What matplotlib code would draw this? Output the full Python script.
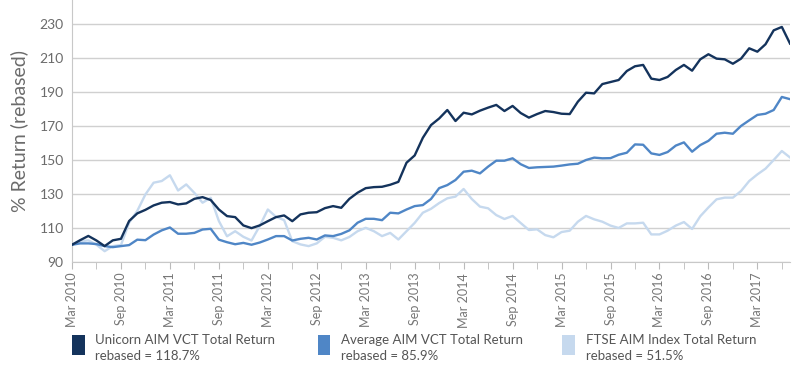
import matplotlib
matplotlib.use("Agg")
import matplotlib.pyplot as plt
from matplotlib.patches import Rectangle

# monthly values, Mar 2010 .. Jul 2017 (rebased to 100)
unicorn = [100, 102.7, 105.2, 102.5, 99.2, 102.6, 103.5, 114, 118.5, 120.6, 123.2, 124.8,
           125.2, 123.8, 124.4, 127.1, 128.1, 126.4, 120.8, 116.9, 116.3, 111.4, 109.8, 111.4,
           113.9, 116.3, 117.3, 113.9, 117.9, 118.9, 119.2, 121.6, 122.8, 121.8, 127.1, 130.7,
           133.4, 134, 134.2, 135.4, 137.1, 148.4, 152.7, 163.1, 170.6, 174.5, 179.5, 173,
           177.9, 176.9, 179.1, 180.9, 182.5, 178.9, 181.9, 177.7, 175, 177.1, 178.9, 178.3,
           177.3, 177.1, 184.4, 189.7, 189.3, 194.8, 196, 197.2, 202.5, 205.3, 206.1, 198,
           197.2, 199, 203.1, 206.1, 202.7, 209.4, 212.4, 209.8, 209.4, 206.8, 209.8, 215.9,
           213.9, 218.3, 226.5, 228.5, 218.7]
average_vct = [100, 100.8, 100.8, 100.4, 99.2, 98.6, 99.2, 99.8, 103, 102.7, 106, 108.5,
               110.2, 106.5, 106.5, 107, 109, 109.4, 103, 101.5, 100.3, 101.1, 100, 101.3,
               103.1, 105.1, 105.1, 102.5, 103.5, 104.1, 103.1, 105.5, 105.1, 106.4, 108.5, 113,
               115.3, 115.3, 114.5, 118.9, 118.5, 120.8, 122.8, 123.4, 127, 133.4, 135.2, 138.2,
               143.1, 143.7, 142.1, 146.1, 149.6, 149.6, 151, 147.5, 145.3, 145.7, 145.9, 146.1,
               146.7, 147.4, 147.8, 150, 151.4, 151, 151.1, 153.1, 154.3, 159.2, 159, 153.9,
               153, 154.7, 158.5, 160.4, 154.9, 158.8, 161.3, 165.5, 166.1, 165.5, 170.1, 173.4,
               176.6, 177.3, 179.5, 187.2, 185.9]
ftse_aim = [100, 102, 102.6, 100, 96.2, 99.2, 99.8, 113, 120, 129.7, 136.6, 137.6,
            141, 132, 135.6, 130.6, 124.8, 127.7, 114, 105, 108, 104.7, 102.5, 111,
            120.8, 116.5, 114.5, 102.1, 100.2, 99.2, 100.8, 104.7, 104.1, 102.6, 104.6, 108,
            110, 108, 105.1, 107, 103.1, 108, 112.9, 118.9, 121.2, 124.6, 127.4, 128.4,
            132.9, 127, 122.5, 121.5, 117.5, 115.2, 117, 112.8, 108.7, 109.1, 105.7, 104.4,
            107.5, 108.3, 113.6, 117, 115, 113.6, 111.3, 109.9, 112.6, 112.6, 113, 106.1,
            106.1, 108.3, 111.3, 113.4, 109.3, 116.8, 122, 126.8, 127.8, 127.8, 131.7, 137.6,
            141.5, 144.9, 150, 155.3, 151.5]

tick_labels = ['Mar 2010', 'Sep 2010', 'Mar 2011', 'Sep 2011', 'Mar 2012', 'Sep 2012',
               'Mar 2013', 'Sep 2013', 'Mar 2014', 'Sep 2014', 'Mar 2015', 'Sep 2015',
               'Mar 2016', 'Sep 2016', 'Mar 2017']
y_ticks = [90, 110, 130, 150, 170, 190, 210, 230]

legend_labels = ['Unicorn AIM VCT Total Return\nrebased = 118.7%',
                 'Average AIM VCT Total Return\nrebased = 85.9%',
                 'FTSE AIM Index Total Return\nrebased = 51.5%']
colors = ['#14335c', '#4f86c6', '#c6d9ee']

plt.rcParams['font.family'] = ['Lato', 'DejaVu Sans']
grey = '#6b6b6b'

fig = plt.figure(figsize=(8, 3.72), dpi=100)
ax = fig.add_axes([0.09, 0.2965, 0.8975, 0.7035])

x = list(range(len(unicorn)))
ax.plot(x, ftse_aim, color=colors[2], lw=1.7, zorder=3)
ax.plot(x, average_vct, color=colors[1], lw=1.7, zorder=4)
ax.plot(x, unicorn, color=colors[0], lw=1.7, zorder=5)

ax.set_xlim(0, len(unicorn) - 1)
ax.set_ylim(90, 244.4)
ax.set_yticks(y_ticks)
ax.set_xticks(range(0, 6 * len(tick_labels), 6))
ax.set_xticks(range(0, len(unicorn), 3), minor=True)
ax.set_xticklabels(tick_labels, rotation=90, fontsize=9, color='#777777')
ax.tick_params(axis='y', length=0, labelsize=10, labelcolor=grey, pad=6)
ax.tick_params(axis='x', which='both', length=5, color='#bbbbbb', pad=3)

ax.grid(axis='y', color='#d0d0d0', lw=1)
ax.set_axisbelow(True)
for s in ['top', 'right']:
    ax.spines[s].set_visible(False)
for s in ['left', 'bottom']:
    ax.spines[s].set_color('#c8c8c8')

ax.set_ylabel('% Return (rebased)', fontsize=14, color=grey, labelpad=8)

# legend drawn by hand: tall swatch + two-line label
leg_x = [0.09, 0.397, 0.703]
for lx, lab, c in zip(leg_x, legend_labels, colors):
    fig.add_artist(Rectangle((lx, 0.045), 0.016, 0.055, transform=fig.transFigure,
                             facecolor=c, edgecolor='none'))
    fig.text(lx + 0.029, 0.103, lab, fontsize=9.5, color='#555555', va='top',
             linespacing=1.4)

fig.savefig('out.png', dpi=100)
